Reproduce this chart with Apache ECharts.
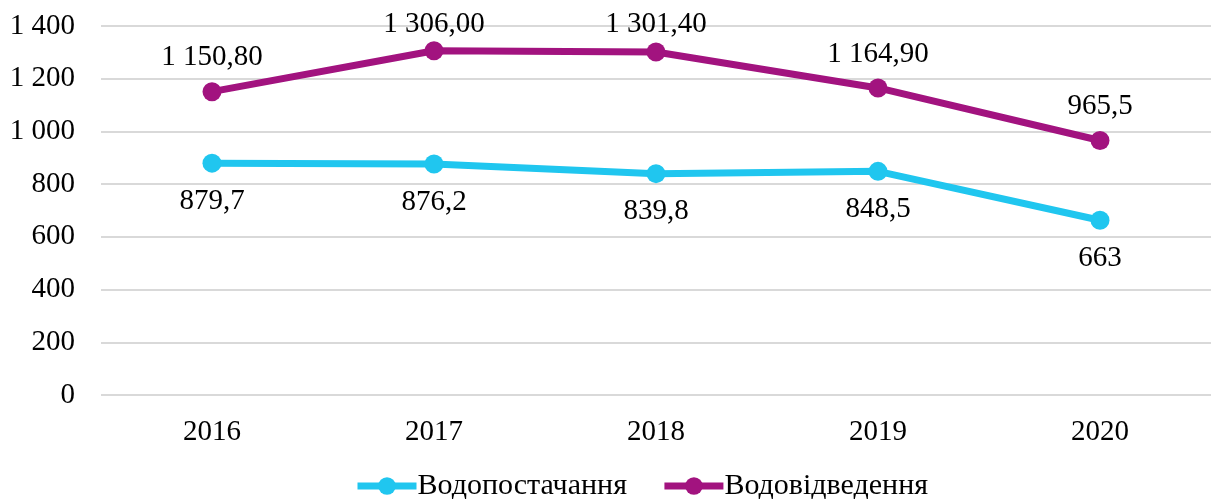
<!DOCTYPE html>
<html>
<head>
<meta charset="utf-8">
<script src="https://cdn.jsdelivr.net/npm/echarts@6/dist/echarts.min.js"></script>
<style>
  html, body { margin: 0; padding: 0; background: #fff; }
  #chart { width: 1211px; height: 499px; }
</style>
</head>
<body>
<div id="chart"></div>
<script>
  // дані
  const years = ['2016', '2017', '2018', '2019', '2020']
  const supply = [879.7, 876.2, 839.8, 848.5, 663]
  const supplyLabels = ['879,7', '876,2', '839,8', '848,5', '663']
  const drainage = [1150.8, 1306.0, 1301.4, 1164.9, 965.5]
  const drainageLabels = ['1 150,80', '1 306,00', '1 301,40', '1 164,90', '965,5']

  const font = '"Liberation Serif", "Times New Roman", serif'
  const cyan = '#20c6ef'
  const magenta = '#a2137f'

  const myChart = echarts.init(document.getElementById('chart'))

  let option = {
    animation: false,
    textStyle: { fontFamily: font },
    grid: {
      left: 101,
      width: 1120,
      top: 26,
      bottom: 104,
      containLabel: false
    },
    legend: {
      bottom: -7,
      left: 349,
      itemWidth: 59,
      itemHeight: 22,
      itemGap: 34,
      lineStyle: { width: 7 },
      textStyle: { fontFamily: font, fontSize: 30, color: '#000', padding: [0, 0, 0, -4] },
      data: ['Водопостачання', 'Водовідведення']
    },
    xAxis: {
      type: 'category',
      boundaryGap: true,
      data: years,
      axisLine: { show: false },
      axisTick: { show: false },
      axisLabel: { margin: 23, fontFamily: font, fontSize: 29, color: '#000' }
    },
    yAxis: {
      type: 'value',
      min: 0,
      max: 1400,
      interval: 200,
      axisLine: { show: false },
      axisTick: { show: false },
      axisLabel: {
        margin: 26,
        fontFamily: font,
        fontSize: 29,
        color: '#000',
        formatter: v => String(v).replace(/\B(?=(\d{3})+(?!\d))/g, ' ')
      },
      splitLine: { lineStyle: { color: '#d9d9d9', width: 2 } }
    },
    series: [
      {
        name: 'Водопостачання',
        type: 'line',
        data: supply,
        symbol: 'circle',
        symbolSize: 19,
        lineStyle: { color: cyan, width: 7 },
        itemStyle: { color: cyan },
        label: {
          show: true,
          position: 'bottom',
          distance: 14,
          fontFamily: font,
          fontSize: 29,
          color: '#000',
          formatter: p => supplyLabels[p.dataIndex]
        }
      },
      {
        name: 'Водовідведення',
        type: 'line',
        data: drainage,
        symbol: 'circle',
        symbolSize: 19,
        lineStyle: { color: magenta, width: 7 },
        itemStyle: { color: magenta },
        label: {
          show: true,
          position: 'top',
          distance: 10,
          fontFamily: font,
          fontSize: 29,
          color: '#000',
          formatter: p => drainageLabels[p.dataIndex]
        },
        // мітки біля верхнього краю зсуваємо вниз, як в оригіналі
        labelLayout: params => ({ dy: Math.max(0, 10 - params.labelRect.y) })
      }
    ]
  }

  myChart.setOption(option)
</script>
</body>
</html>
